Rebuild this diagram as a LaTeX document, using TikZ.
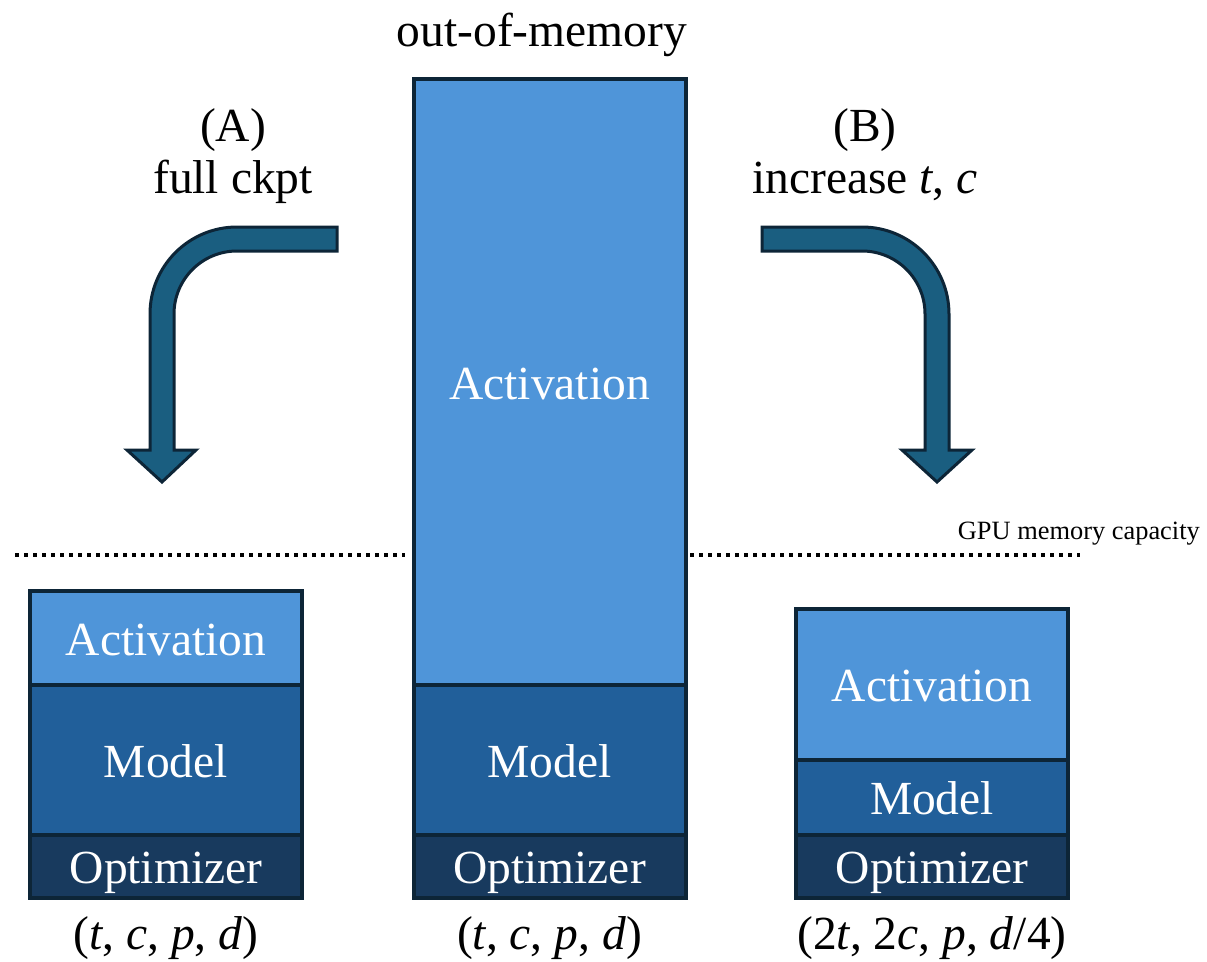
\documentclass[tikz,border=0pt]{standalone}
\usepackage{fontspec}
\setmainfont{Liberation Serif}
\usetikzlibrary{positioning}

\definecolor{actblue}{HTML}{4F95D9}
\definecolor{modelblue}{HTML}{215F9A}
\definecolor{optblue}{HTML}{183A5E}
\definecolor{edgeblue}{HTML}{0D2537}
\definecolor{arrowblue}{HTML}{1A5E80}

\newcommand{\bigsize}{\fontsize{47.5}{53}\selectfont}
\newcommand{\capsize}{\fontsize{26.4}{30}\selectfont}

\begin{document}
\begin{tikzpicture}[x=1pt, y=-1pt]
  \tikzstyle{cell} = [rectangle, draw=edgeblue, line width=4pt, minimum width=272pt, inner sep=0pt, outer sep=0pt, text=white, font=\bigsize, text height=34pt, text depth=0pt]
  \tikzstyle{actcell} = [cell, fill=actblue]
  \tikzstyle{modelcell} = [cell, fill=modelblue]
  \tikzstyle{optcell} = [cell, fill=optblue, minimum height=63pt]
  \tikzstyle{lbl} = [inner sep=0pt, font=\bigsize, text height=34pt, text depth=10pt]
  \tikzstyle{turnarrow} = [fill=arrowblue, draw=edgeblue, line width=3pt, line join=miter]
  \tikzstyle{capline} = [line width=3.5pt, dash pattern=on 4pt off 5pt]
  \useasboundingbox (0,0) rectangle (1207,961);

  % left stack
  \node[actcell, minimum height=94pt] (actL) at (166,638) {Activation};
  \node[modelcell, minimum height=150pt, below=0pt of actL] (modelL) {Model};
  \node[optcell, below=0pt of modelL] (optL) {Optimizer};
  \node[lbl, below=17pt of optL] (cfgL) {(\textit{t}, \textit{c}, \textit{p}, \textit{d})};

  % middle stack
  \node[actcell, minimum height=606pt] (actM) at (549.5,382) {Activation};
  \node[modelcell, minimum height=150pt, below=0pt of actM] (modelM) {Model};
  \node[optcell, below=0pt of modelM] (optM) {Optimizer};
  \node[lbl, below=17pt of optM] (cfgM) {(\textit{t}, \textit{c}, \textit{p}, \textit{d})};
  \node[lbl, anchor=base] (oom) at (542,46) {out-of-memory};

  % right stack
  \node[actcell, minimum height=151pt] (actR) at (932,684.5) {Activation};
  \node[modelcell, minimum height=75pt, below=0pt of actR] (modelR) {Model};
  \node[optcell, below=0pt of modelR] (optR) {Optimizer};
  \node[lbl, below=17pt of optR] (cfgR) {(2\textit{t}, 2\textit{c}, \textit{p}, \textit{d}/4)};

  % memory limit
  \coordinate (limL1) at (15,555);
  \coordinate (limL2) at (405,555);
  \coordinate (limR1) at (690,555);
  \coordinate (limR2) at (1080,555);
  \draw[capline] (limL1) -- (limL2);
  \draw[capline] (limR1) -- (limR2);
  \node[anchor=base east, font=\capsize, inner sep=0pt] (cap) at (1200,539) {GPU memory capacity};

  % (A) full checkpointing
  \node[lbl, anchor=base] (tagA) at (233,141) {(A)};
  \node[lbl, anchor=base] (txtA) at (233,193) {full ckpt};
  \draw[turnarrow] (337,227) -- (237,227) arc[start angle=-90, end angle=-180, radius=87]
    -- (150,450) -- (127,450) -- (162,482) -- (196,450) -- (174,450)
    -- (174,314) arc[start angle=-180, end angle=-90, radius=63] -- (337,251) -- cycle;

  % (B) larger t and c
  \node[lbl, anchor=base] (tagB) at (865,141) {(B)};
  \node[lbl, anchor=base] (txtB) at (865,193) {increase \textit{t}, \textit{c}};
  \draw[turnarrow] (762,227) -- (862,227) arc[start angle=-90, end angle=0, radius=87]
    -- (949,450) -- (972,450) -- (937,482) -- (902,450) -- (925,450)
    -- (925,314) arc[start angle=0, end angle=-90, radius=63] -- (762,251) -- cycle;
\end{tikzpicture}
\end{document}
